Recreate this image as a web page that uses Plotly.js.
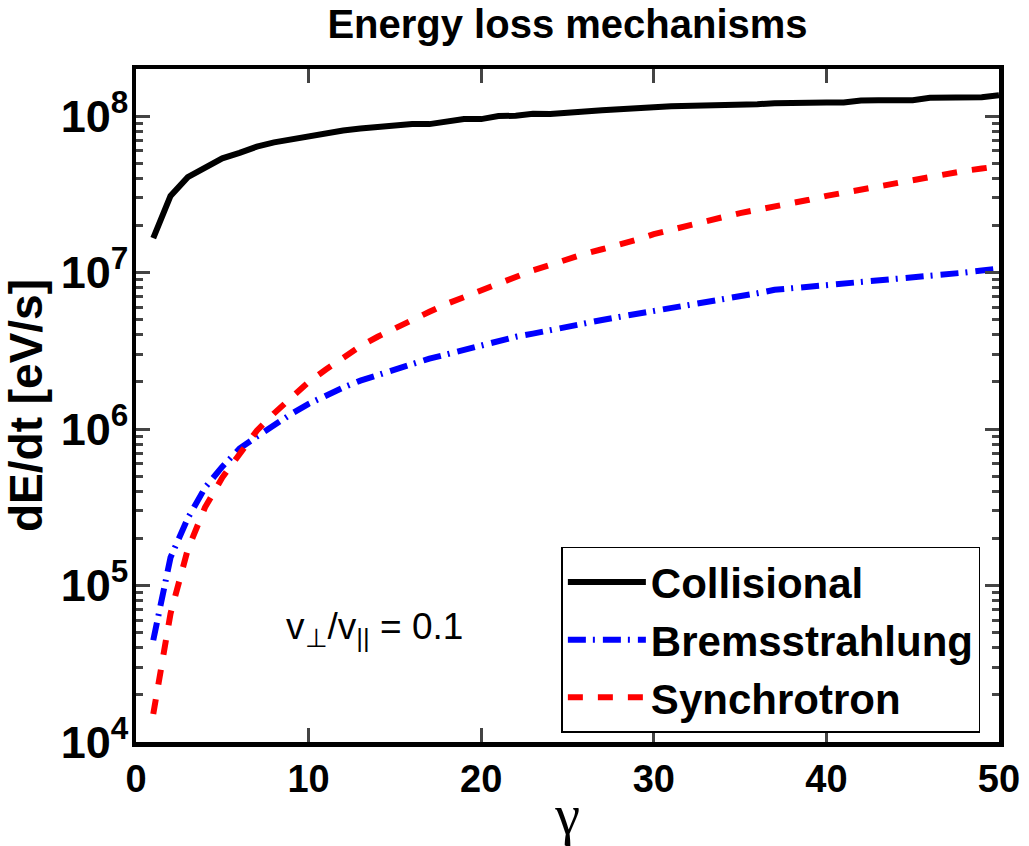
<!DOCTYPE html>
<html>
<head>
<meta charset="utf-8">
<script src="https://cdn.plot.ly/plotly-3.0.1.min.js"></script>
<style>
  html, body { margin: 0; padding: 0; background: #fff; }
  #chart { width: 1029px; height: 846px; }
</style>
</head>
<body>
<div id="chart"></div>
<script>
// Lorentz factor gamma
const gamma = [1,2,3,4,5,6,7,8,9,10,11,12,13,14,15,16,17,18,19,20,21,22,23,24,25,
               26,27,28,29,30,31,32,33,34,35,36,37,38,39,40,41,42,43,44,45,46,47,48,49,50];

// Energy loss rates dE/dt in eV/s
const collisional = [1.66e7,3.09e7,4.07e7,4.68e7,5.37e7,5.82e7,6.38e7,6.79e7,7.13e7,7.38e7,
                     7.85e7,8.09e7,8.32e7,8.51e7,8.71e7,8.89e7,8.89e7,9.23e7,9.57e7,9.57e7,
                     1.00e8,1.005e8,1.035e8,1.03e8,1.06e8,1.07e8,1.09e8,1.10e8,1.12e8,1.14e8,
                     1.156e8,1.16e8,1.16e8,1.16e8,1.175e8,1.19e8,1.21e8,1.22e8,1.22e8,1.22e8,
                     1.22e8,1.26e8,1.265e8,1.265e8,1.265e8,1.31e8,1.315e8,1.315e8,1.32e8,1.36e8];

const bremsstrahlung = [4.47e4,1.51e5,2.69e5,4.22e5,5.75e5,7.50e5,8.95e5,1.07e6,1.25e6,1.45e6,
                        1.64e6,1.84e6,2.04e6,2.22e6,2.43e6,2.63e6,2.82e6,3.00e6,3.20e6,3.44e6,
                        3.67e6,3.89e6,4.07e6,4.30e6,4.52e6,4.75e6,4.98e6,5.21e6,5.43e6,5.65e6,
                        5.89e6,6.17e6,6.46e6,6.73e6,7.03e6,7.38e6,7.76e6,7.94e6,8.13e6,8.32e6,
                        8.49e6,8.63e6,8.77e6,8.97e6,9.18e6,9.44e6,9.71e6,1.00e7,1.03e7,1.06e7];

const synchrotron = [1.51e4,6.61e4,1.70e5,3.16e5,4.90e5,6.92e5,9.77e5,1.26e6,1.58e6,2.00e6,
                     2.40e6,2.88e6,3.39e6,3.89e6,4.42e6,5.01e6,5.62e6,6.31e6,7.00e6,7.76e6,
                     8.51e6,9.33e6,1.035e7,1.12e7,1.22e7,1.32e7,1.41e7,1.50e7,1.62e7,1.76e7,
                     1.88e7,2.00e7,2.16e7,2.26e7,2.40e7,2.51e7,2.63e7,2.75e7,2.92e7,3.09e7,
                     3.24e7,3.43e7,3.59e7,3.76e7,3.89e7,4.07e7,4.27e7,4.47e7,4.62e7,4.79e7];

const seriesNames = ['Collisional', 'Bremsstrahlung', 'Synchrotron'];
const xTickVals = [0, 10, 20, 30, 40, 50];
const ratioLabel = 'v<sub>⊥</sub>/v<sub>||</sub> = 0.1';

const FONT = 'Liberation Sans, Arial, Helvetica, sans-serif';

const traces = [
  { x: gamma, y: collisional, name: seriesNames[0], mode: 'lines',
    line: { color: '#000000', width: 6 } },
  { x: gamma, y: bremsstrahlung, name: seriesNames[1], mode: 'lines',
    line: { color: '#0000ff', width: 6, dash: '18px,7px,2px,8px' } },
  { x: gamma, y: synchrotron, name: seriesNames[2], mode: 'lines',
    line: { color: '#ff0000', width: 6, dash: '15px,15px' } }
];

const layout = {
  width: 1029, height: 846,
  margin: { l: 136, r: 30, t: 69, b: 104, pad: 0 },
  paper_bgcolor: '#ffffff', plot_bgcolor: '#ffffff',
  font: { family: FONT, color: '#000000' },
  title: {
    text: 'Energy loss mechanisms',
    font: { family: FONT, size: 40, weight: 'bold', color: '#000' },
    x: 0.5, xref: 'paper', y: 0.972, yref: 'container', yanchor: 'middle'
  },
  xaxis: {
    range: [0, 50], tickvals: xTickVals, ticks: 'inside', ticklen: 14, tickwidth: 3,
    showline: true, linewidth: 4.5, linecolor: '#000', mirror: 'allticks',
    showgrid: false, zeroline: false,
    tickfont: { family: FONT, size: 38, weight: 'bold' },
    title: { text: 'γ', font: { family: 'Liberation Serif, Times New Roman, serif', size: 56 }, standoff: 6 }
  },
  yaxis: {
    type: 'log', range: [4, Math.log10(2e8)], dtick: 1, exponentformat: 'power',
    ticks: 'inside', ticklen: 14, tickwidth: 3, ticklabelstandoff: -4,
    minor: { ticks: 'inside', ticklen: 7, tickwidth: 3, dtick: 'D1', showgrid: false },
    showline: true, linewidth: 4.5, linecolor: '#000', mirror: 'allticks',
    showgrid: false, zeroline: false,
    tickfont: { family: FONT, size: 36, weight: 'bold' },
    title: { text: 'dE/dt [eV/s]', font: { family: FONT, size: 46, weight: 'bold' }, standoff: 8 }
  },
  legend: {
    x: 0.4929, xanchor: 'left', y: 0.0137, yanchor: 'bottom',
    bgcolor: '#ffffff', bordercolor: '#000', borderwidth: 1.5,
    font: { family: FONT, size: 42, weight: 'bold' },
    itemwidth: 78, tracegroupgap: 0
  },
  showlegend: true,
  annotations: [{
    text: ratioLabel, x: 13.8, y: 4.72, xref: 'x', yref: 'y', showarrow: false,
    font: { family: FONT, size: 37, color: '#000' }
  }]
};

Plotly.newPlot('chart', traces, layout, { staticPlot: true, displayModeBar: false });
</script>
</body>
</html>
